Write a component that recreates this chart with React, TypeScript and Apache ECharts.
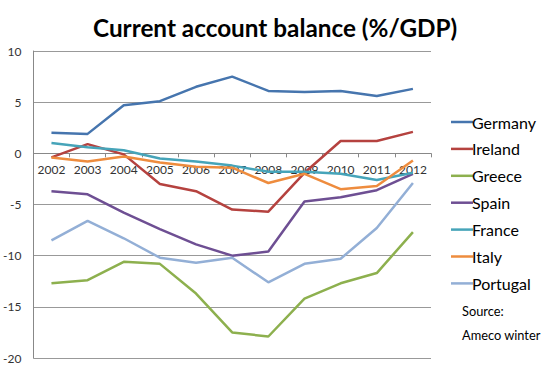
import React, { useEffect, useRef } from "react";
import * as echarts from "echarts";

const years = ["2002", "2003", "2004", "2005", "2006", "2007", "2008", "2009", "2010", "2011", "2012"];
const germany = [2.0, 1.9, 4.7, 5.1, 6.5, 7.5, 6.1, 6.0, 6.1, 5.6, 6.3];
const ireland = [-0.4, 0.9, -0.1, -3.0, -3.7, -5.5, -5.7, -1.9, 1.2, 1.2, 2.1];
const greece = [-12.7, -12.4, -10.6, -10.8, -13.7, -17.5, -17.9, -14.2, -12.7, -11.7, -7.7];
const spain = [-3.7, -4.0, -5.8, -7.4, -8.9, -10.0, -9.6, -4.7, -4.3, -3.6, -2.0];
const france = [1.0, 0.6, 0.3, -0.5, -0.8, -1.2, -1.8, -1.8, -2.0, -2.6, -1.9];
const italy = [-0.4, -0.8, -0.3, -0.9, -1.3, -1.4, -2.9, -2.0, -3.5, -3.2, -0.7];
const portugal = [-8.5, -6.6, -8.3, -10.2, -10.7, -10.2, -12.6, -10.8, -10.3, -7.3, -2.9];

const seriesNames = ["Germany", "Ireland", "Greece", "Spain", "France", "Italy", "Portugal"];
const seriesData = [germany, ireland, greece, spain, france, italy, portugal];
const colors = ["#4675AE", "#B5423F", "#8DB04E", "#6E4F93", "#46A4B9", "#EE8C3E", "#93AFD6"];

const titleText = "Current account balance (%/GDP)";
const sourceLines = ["Source:", "Ameco winter"];

const Y_MIN = -20;
const Y_MAX = 10;
const FONT = "Lato";

const W = 544;
const H = 388;
const GRID = { left: 30, right: 113, top: 51, bottom: 30 };

export default function App() {
  const ref = useRef<HTMLDivElement>(null);
  useEffect(() => {
    if (!ref.current) return;
    const chart = echarts.init(ref.current, null, { renderer: "svg" });
    const plotH = H - GRID.top - GRID.bottom;
    const zeroFromBottom = (plotH * (0 - Y_MIN)) / (Y_MAX - Y_MIN);
    chart.setOption({
      animation: false,
      backgroundColor: "#ffffff",
      color: colors,
      textStyle: { fontFamily: FONT },
      title: {
        text: titleText,
        left: 88,
        top: 10,
        textStyle: { fontFamily: FONT, fontWeight: "bold", fontSize: 24.3, color: "#000" },
      },
      grid: { ...GRID, containLabel: false },
      legend: {
        orient: "vertical",
        left: 446,
        top: 109,
        icon: "rect",
        itemWidth: 22,
        itemHeight: 2.5,
        itemGap: 10.9,
        data: seriesNames,
        textStyle: { fontFamily: FONT, fontSize: 16, color: "#000", lineHeight: 14, padding: [0, 0, 0, -6] },
      },
      xAxis: {
        type: "category",
        data: years,
        boundaryGap: true,
        offset: -zeroFromBottom,
        axisLine: { onZero: false, lineStyle: { color: "#888", width: 1 } },
        axisTick: { show: true, length: 4, lineStyle: { color: "#888" } },
        axisLabel: { fontFamily: FONT, fontSize: 12, color: "#333", margin: 10, interval: 0 },
      },
      yAxis: {
        type: "value",
        min: Y_MIN,
        max: Y_MAX,
        interval: 5,
        axisLine: { show: true, lineStyle: { color: "#888" } },
        axisTick: { show: false },
        splitLine: { lineStyle: { color: "#999", width: 1 } },
        axisLabel: { fontFamily: FONT, fontSize: 12, color: "#333", margin: 12 },
      },
      series: seriesNames.map((name, i) => ({
        name,
        type: "line",
        data: seriesData[i],
        showSymbol: false,
        symbol: "none",
        lineStyle: { width: 2.5, color: colors[i] },
        itemStyle: { color: colors[i] },
      })),
      graphic: [
        {
          type: "text",
          left: 462,
          top: 299,
          style: { text: sourceLines.join("\n"), font: `12.8px ${FONT}`, fill: "#000", lineHeight: 24 },
        },
      ],
    });
    return () => chart.dispose();
  }, []);
  return (
    <div
      ref={ref}
      style={{ position: "fixed", left: 0, top: 0, width: W, height: H }}
    />
  );
}
